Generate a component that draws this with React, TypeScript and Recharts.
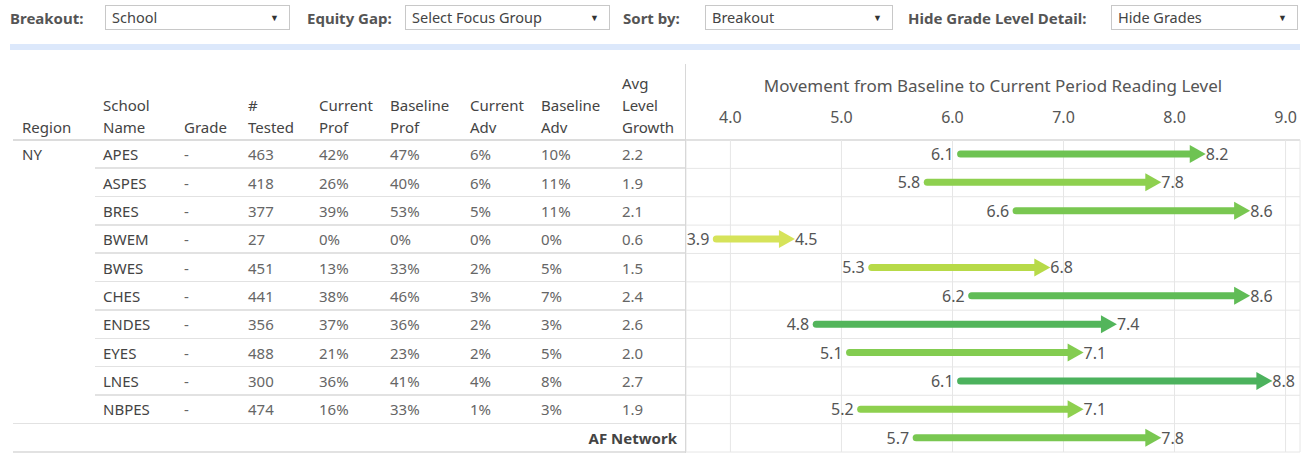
import React from "react";
import { ComposedChart, Bar, XAxis, YAxis, CartesianGrid } from "recharts";

// data
const schools = ["APES", "ASPES", "BRES", "BWEM", "BWES", "CHES", "ENDES", "EYES", "LNES", "NBPES"];
const tested = [463, 418, 377, 27, 451, 441, 356, 488, 300, 474];
const currentProf = [42, 26, 39, 0, 13, 38, 37, 21, 36, 16];
const baselineProf = [47, 40, 53, 0, 33, 46, 36, 23, 41, 33];
const currentAdv = [6, 6, 5, 0, 2, 3, 2, 2, 4, 1];
const baselineAdv = [10, 11, 11, 0, 5, 7, 3, 5, 8, 3];
const avgGrowth = [2.2, 1.9, 2.1, 0.6, 1.5, 2.4, 2.6, 2.0, 2.7, 1.9];
const baselineLevel = [6.1, 5.8, 6.6, 3.9, 5.3, 6.2, 4.8, 5.1, 6.1, 5.2];
const currentLevel = [8.2, 7.8, 8.6, 4.5, 6.8, 8.6, 7.4, 7.1, 8.8, 7.1];
const networkName = "AF Network";
const networkBaseline = 5.7;
const networkCurrent = 7.8;
const networkGrowth = 2.1;
const xTicks = [4, 5, 6, 7, 8, 9];

const filters = [
  { label: "Breakout:", value: "School" },
  { label: "Equity Gap:", value: "Select Focus Group" },
  { label: "Sort by:", value: "Breakout" },
  { label: "Hide Grade Level Detail:", value: "Hide Grades" },
];

const chartData = [
  ...schools.map((name, i) => ({
    name,
    range: [baselineLevel[i], currentLevel[i]],
    base: baselineLevel[i],
    cur: currentLevel[i],
    growth: avgGrowth[i],
  })),
  { name: networkName, range: [networkBaseline, networkCurrent], base: networkBaseline, cur: networkCurrent, growth: networkGrowth },
];

// continuous green colour scale by growth
const colorStops: Array<[number, number[]]> = [
  [0.6, [214, 227, 90]],
  [1.5, [183, 218, 72]],
  [1.9, [142, 208, 79]],
  [2.2, [110, 195, 82]],
  [2.7, [76, 178, 93]],
];
function growthColor(g: number) {
  if (g <= colorStops[0][0]) return `rgb(${colorStops[0][1].join(",")})`;
  for (let i = 1; i < colorStops.length; i++) {
    const [g1, c1] = colorStops[i];
    const [g0, c0] = colorStops[i - 1];
    if (g <= g1) {
      const t = (g - g0) / (g1 - g0);
      const c = c0.map((v, k) => Math.round(v + (c1[k] - v) * t));
      return `rgb(${c.join(",")})`;
    }
  }
  return `rgb(${colorStops[colorStops.length - 1][1].join(",")})`;
}

const FONT = "'Noto Sans', sans-serif";
const ROW_TOP = 140;
const ROW_H = 312 / 11;
const colX = [22, 103, 184, 248, 319, 390, 470, 541, 622];
const headers = [["Region"], ["School", "Name"], ["Grade"], ["#", "Tested"], ["Current", "Prof"], ["Baseline", "Prof"], ["Current", "Adv"], ["Baseline", "Adv"], ["Avg", "Level", "Growth"]];

function Arrow(props: any) {
  const { x, y, width, height, payload } = props;
  const cy = y + height / 2;
  const color = growthColor(payload.growth);
  const startX = x - 3;
  const tipX = x + width + 9;
  const headL = 16;
  const headH = 9;
  return (
    <g>
      <line x1={startX} y1={cy} x2={tipX - headL + 1} y2={cy} stroke={color} strokeWidth={7} strokeLinecap="round" />
      <polygon points={`${tipX - headL},${cy - headH} ${tipX},${cy} ${tipX - headL},${cy + headH}`} fill={color} />
      <text x={startX - 7} y={cy} textAnchor="end" dominantBaseline="central" fill="#555" fontSize={16} fontFamily={FONT}>
        {payload.base.toFixed(1)}
      </text>
      <text x={tipX} y={cy} textAnchor="start" dominantBaseline="central" fill="#555" fontSize={16} fontFamily={FONT}>
        {payload.cur.toFixed(1)}
      </text>
    </g>
  );
}

function FilterBar() {
  const pos = [
    { lx: 10, bx: 105, bw: 185 },
    { lx: 307, bx: 405, bw: 205 },
    { lx: 623, bx: 705, bw: 188 },
    { lx: 908, bx: 1111, bw: 187 },
  ];
  return (
    <>
      {filters.map((f, i) => (
        <React.Fragment key={f.label}>
          <div style={{ position: "absolute", left: pos[i].lx, top: 8, fontSize: 15, fontWeight: 700, color: "#555", lineHeight: "20px", whiteSpace: "nowrap" }}>{f.label}</div>
          <div
            style={{
              position: "absolute",
              left: pos[i].bx,
              top: 5,
              width: pos[i].bw,
              height: 25,
              boxSizing: "border-box",
              border: "1px solid #c8c8c8",
              background: "#fff",
              fontSize: 14.5,
              color: "#444",
              lineHeight: "23px",
              paddingLeft: 6,
              whiteSpace: "nowrap",
            }}
          >
            {f.value}
            <span style={{ position: "absolute", right: 10, top: 0, fontSize: 9, color: "#333" }}>▼</span>
          </div>
        </React.Fragment>
      ))}
      <div style={{ position: "absolute", left: 10, top: 44, width: 1290, height: 6, background: "#dce8fb" }} />
    </>
  );
}

function Table() {
  const rowCenter = (i: number) => ROW_TOP + ROW_H * i + ROW_H / 2;
  const cell = (x: number, i: number, text: string, color = "#666", key?: string) => (
    <div key={key} style={{ position: "absolute", left: x, top: rowCenter(i) - 11, lineHeight: "22px", fontSize: 15, color, whiteSpace: "nowrap" }}>
      {text}
    </div>
  );
  return (
    <>
      {headers.map((lines, c) => (
        <div key={c} style={{ position: "absolute", left: colX[c], bottom: 453 - 138, fontSize: 15, lineHeight: "22px", color: "#444" }}>
          {lines.map((l) => (
            <div key={l}>{l}</div>
          ))}
        </div>
      ))}
      <div style={{ position: "absolute", left: 13, top: ROW_TOP - 1, width: 1287, height: 2, background: "#dcdcdc" }} />
      {cell(colX[0], 0, "NY", "#444", "region")}
      {schools.map((s, i) => (
        <React.Fragment key={s}>
          {cell(colX[1], i, s, "#444")}
          {cell(colX[2], i, "-")}
          {cell(colX[3], i, String(tested[i]))}
          {cell(colX[4], i, currentProf[i] + "%")}
          {cell(colX[5], i, baselineProf[i] + "%")}
          {cell(colX[6], i, currentAdv[i] + "%")}
          {cell(colX[7], i, baselineAdv[i] + "%")}
          {cell(colX[8], i, avgGrowth[i].toFixed(1))}
          {i < schools.length - 1 && (
            <div style={{ position: "absolute", left: 95, top: ROW_TOP + ROW_H * (i + 1) - 1, width: 591, height: 1.5, background: "#e2e2e2" }} />
          )}
        </React.Fragment>
      ))}
      <div style={{ position: "absolute", left: 13, top: ROW_TOP + ROW_H * 10 - 1, width: 673, height: 1.5, background: "#e2e2e2" }} />
      <div style={{ position: "absolute", right: 1306 - 677, top: rowCenter(10) - 11, lineHeight: "22px", fontSize: 15, fontWeight: 700, color: "#444" }}>{networkName}</div>
      <div style={{ position: "absolute", left: 13, top: 451, width: 673, height: 1.5, background: "#e2e2e2" }} />
    </>
  );
}

export default function App() {
  return (
    <div style={{ position: "absolute", left: 0, top: 0, width: 1306, height: 453, background: "#fff", fontFamily: FONT, overflow: "hidden" }}>
      <FilterBar />
      <Table />
      <div style={{ position: "absolute", left: 685, top: 64, width: 1, height: 389, background: "#d8d8d8" }} />
      <div style={{ position: "absolute", left: 686, top: 73, width: 614, textAlign: "center", fontSize: 17, color: "#555", lineHeight: "26px", whiteSpace: "nowrap" }}>
        Movement from Baseline to Current Period Reading Level
      </div>
      <div style={{ position: "absolute", left: 686, top: 60 }}>
        <ComposedChart width={620} height={393} data={chartData} layout="vertical" margin={{ top: 0, right: 6, bottom: 1, left: 0 }}>
          <CartesianGrid
            stroke="#e6e6e6"
            strokeWidth={1}
            horizontal
            vertical
            horizontalCoordinatesGenerator={({ offset }: any) => Array.from({ length: 12 }, (_, i) => offset.top + (offset.height / 11) * i)}
          />
          <XAxis
            type="number"
            orientation="top"
            domain={[3.6, 9.13]}
            ticks={xTicks}
            tickFormatter={(v: number) => v.toFixed(1)}
            height={80}
            axisLine={false}
            tickLine={false}
            tickSize={0}
            tickMargin={17}
            tick={{ fill: "#555", fontSize: 16, fontFamily: FONT }}
            allowDataOverflow
          />
          <YAxis type="category" dataKey="name" hide />
          <Bar dataKey="range" shape={Arrow} barSize={18} isAnimationActive={false} />
        </ComposedChart>
      </div>
    </div>
  );
}
